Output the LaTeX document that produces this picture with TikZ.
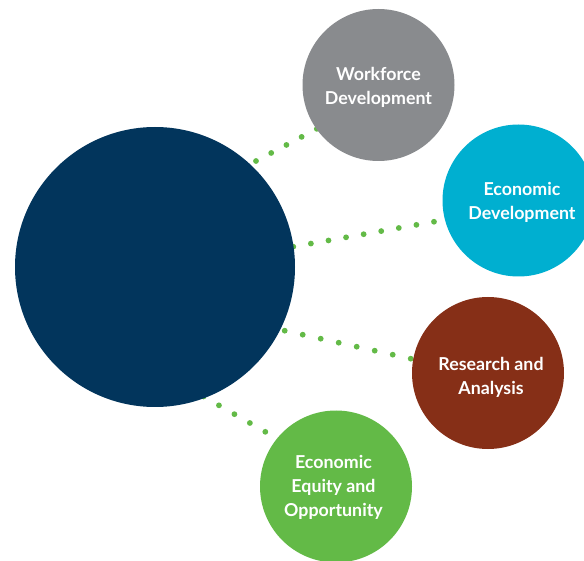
\documentclass[tikz,border=0pt]{standalone}
\usepackage{fontspec}
\setmainfont{Lato}
\definecolor{navy}{HTML}{02355C}
\definecolor{slate}{HTML}{898B8E}
\definecolor{teal}{HTML}{00AFD0}
\definecolor{rust}{HTML}{862F17}
\definecolor{leaf}{HTML}{63BA47}
\tikzset{
  hub/.style={circle, fill=navy, minimum size=280pt, inner sep=0pt},
  topic/.style={circle, minimum size=152pt, inner sep=0pt},
  label/.style={text=white, font=\fontsize{17.8}{24}\selectfont\bfseries, align=center},
  dots/.style={leaf, line width=5.8pt, line cap=round, dash pattern=on 0pt off #1},
}
\begin{document}
\begin{tikzpicture}[x=1pt, y=-1pt]
\useasboundingbox (0,0) rectangle (584,561);
\clip (0,0) rectangle (584,561);

% end points of the dotted links (their hidden ends lie under the discs)
\coordinate (wf-a) at (256,161);
\coordinate (wf-b) at (317.3,128.6);
\coordinate (ed-a) at (293.3,246.7);
\coordinate (ed-b) at (434.2,221.7);
\coordinate (ra-a) at (284.7,330.7);
\coordinate (ra-b) at (410.8,358.7);
\coordinate (eq-a) at (203.5,396.5);
\coordinate (eq-b) at (265.8,432.1);

\draw[dots=17.2pt] (wf-a) -- (wf-b);
\draw[dots=17.86pt] (ed-a) -- (ed-b);
\draw[dots=18.44pt] (ra-a) -- (ra-b);
\draw[dots=17.8pt] (eq-a) -- (eq-b);

% discs
\node[hub] (core) at (155,267) {};
\node[topic, fill=slate] (workforce) at (378.5,85) {};
\node[topic, fill=teal] (econdev) at (518.5,200.5) {};
\node[topic, fill=rust] (research) at (488,373) {};
\node[topic, fill=leaf] (equity) at (336,486.5) {};

% captions
\node[label] (workforce-t) at (378.5,87) {Workforce\\Development};
\node[label] (econdev-t) at (522,202) {Economic\\Development};
\node[label] (research-t) at (491,377.5) {Research and\\Analysis};
\node[label] (equity-t) at (333.5,487) {Economic\\Equity and\\Opportunity};
\end{tikzpicture}
\end{document}
